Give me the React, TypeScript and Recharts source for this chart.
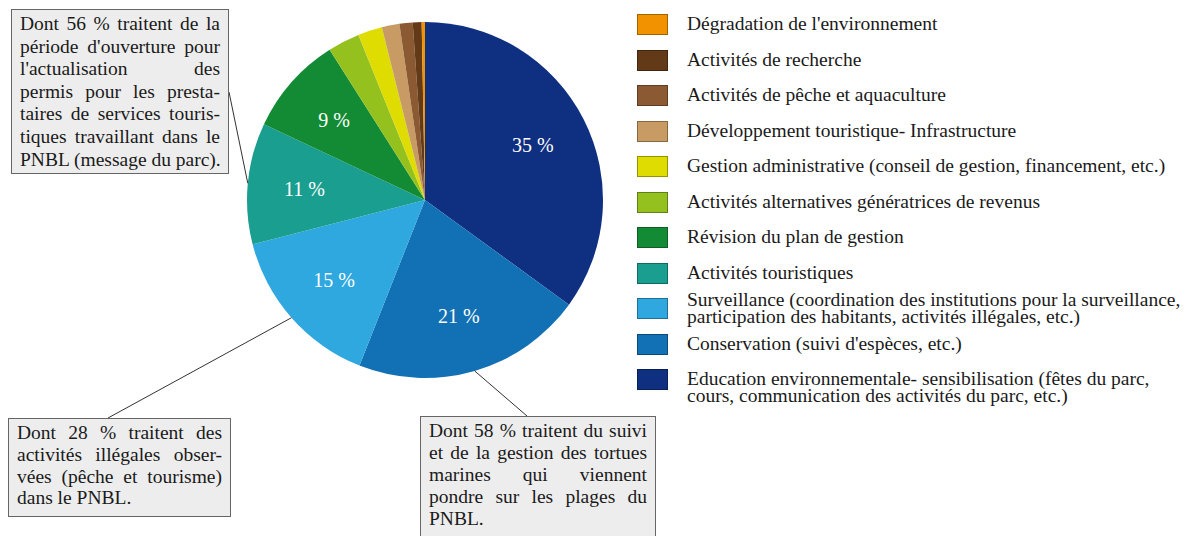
import React from "react";
import { PieChart, Pie, Cell, Legend } from "recharts";

// slices clockwise from 12 o'clock
const categories = [
  "Education environnementale- sensibilisation (fêtes du parc,\ncours, communication des activités du parc, etc.)",
  "Conservation (suivi d'espèces, etc.)",
  "Surveillance (coordination des institutions pour la surveillance,\nparticipation des habitants, activités illégales, etc.)",
  "Activités touristiques",
  "Révision du plan de gestion",
  "Activités alternatives génératrices de revenus",
  "Gestion administrative (conseil de gestion, financement, etc.)",
  "Développement touristique- Infrastructure",
  "Activités de pêche et aquaculture",
  "Activités de recherche",
  "Dégradation de l'environnement",
];

const shares = [35, 21, 15, 11, 9, 2.9, 2.2, 1.6, 1.2, 0.8, 0.3];

const colors = [
  "#0f2f80",
  "#1270b5",
  "#2ea8df",
  "#1a9e8f",
  "#138b35",
  "#95c11f",
  "#dedc00",
  "#c89b64",
  "#8b5a33",
  "#633a18",
  "#f39200",
];

const swatchBorders = [
  "#0a1f55",
  "#0c4b79",
  "#1f7095",
  "#116a60",
  "#0d5d24",
  "#647f15",
  "#959300",
  "#866843",
  "#5d3c22",
  "#422710",
  "#a26200",
];

const noteTexts = [
  [
    "Dont 56 % traitent de la",
    "période d'ouverture pour",
    "l'actualisation des",
    "permis pour les presta-",
    "taires de services touris-",
    "tiques travaillant dans le",
    "PNBL (message du parc).",
  ],
  [
    "Dont 28 % traitent des",
    "activités illégales obser-",
    "vées (pêche et tourisme)",
    "dans le PNBL.",
  ],
  [
    "Dont 58 % traitent du suivi",
    "et de la gestion des tortues",
    "marines qui viennent",
    "pondre sur les plages du",
    "PNBL.",
  ],
];
// which slice each note points at
const noteSlices = [3, 2, 1];

const data = categories.map((name, i) => ({ name, value: shares[i] }));

// layout
const CX = 425;
const CY = 200;
const R = 178;
const FONT = "'Liberation Serif', serif";
const noteBoxes = [
  { left: 11, top: 9, width: 218, height: 165, lh: 22.6, ax: 229, ay: 92 },
  { left: 8, top: 418, width: 223, height: 99, lh: 21.8, ax: 108, ay: 418 },
  { left: 420, top: 416, width: 236, height: 140, lh: 22, ax: 527, ay: 416 },
];

const RAD = Math.PI / 180;

function renderLabel(props: any) {
  const { cx, cy, midAngle, outerRadius, index, value } = props;
  const cos = Math.cos(-midAngle * RAD);
  const sin = Math.sin(-midAngle * RAD);
  const noteIdx = noteSlices.indexOf(index);
  return (
    <g>
      {value >= 5 && (
        <text
          x={cx + outerRadius * 0.68 * cos}
          y={cy + outerRadius * 0.68 * sin}
          fill="#fff"
          fontSize={20}
          fontFamily={FONT}
          textAnchor="middle"
          dominantBaseline="central"
        >
          {Math.round(value)} %
        </text>
      )}
      {noteIdx >= 0 && (
        <line
          x1={cx + outerRadius * cos}
          y1={cy + outerRadius * sin}
          x2={noteBoxes[noteIdx].ax}
          y2={noteBoxes[noteIdx].ay}
          stroke="#333"
          strokeWidth={1}
        />
      )}
    </g>
  );
}

function LegendBox() {
  const order = data.map((d, i) => i).reverse();
  return (
    <div style={{ position: "relative", width: 560, height: 420, fontFamily: FONT, fontSize: 19.5, color: "#1a1a1a" }}>
      {order.map((idx, row) => {
        const top = row * 35.5;
        const lines = data[idx].name.split("\n");
        const centered = lines.length > 1 && row < order.length - 1;
        return (
          <div key={idx} style={{ position: "absolute", top, left: 0 }}>
            <div
              style={{
                position: "absolute",
                left: 0,
                top: 0,
                width: 29,
                height: 19,
                background: colors[idx],
                border: `1px solid ${swatchBorders[idx]}`,
              }}
            />
            <div
              style={{
                position: "absolute",
                left: 50,
                top: centered ? -7 : 1,
                lineHeight: "17px",
                whiteSpace: "pre",
              }}
            >
              {data[idx].name}
            </div>
          </div>
        );
      })}
    </div>
  );
}

export default function App() {
  return (
    <div style={{ position: "absolute", left: 0, top: 0, width: 1200, height: 536, background: "#fff", overflow: "hidden" }}>
      <PieChart width={1200} height={536} margin={{ top: 0, right: 0, bottom: 0, left: 0 }}>
        <Pie
          data={data}
          dataKey="value"
          nameKey="name"
          cx={CX}
          cy={CY}
          outerRadius={R}
          startAngle={90}
          endAngle={-270}
          stroke="none"
          label={renderLabel}
          labelLine={false}
          isAnimationActive={false}
        >
          {data.map((entry, index) => (
            <Cell key={`cell-${index}`} fill={colors[index]} />
          ))}
        </Pie>
        <Legend
          content={() => <LegendBox />}
          wrapperStyle={{ position: "absolute", left: 637, top: 14, width: 560 }}
        />
      </PieChart>
      {noteTexts.map((lines, n) => {
        const b = noteBoxes[n];
        return (
          <div
            key={n}
            style={{
              position: "absolute",
              left: b.left,
              top: b.top,
              width: b.width,
              height: b.height,
              boxSizing: "border-box",
              background: "#ededed",
              border: "1.5px solid #666",
              padding: "3px 8px",
              fontFamily: FONT,
              fontSize: 19.5,
              lineHeight: `${b.lh}px`,
              color: "#1a1a1a",
            }}
          >
            {lines.map((t, i) => (
              <div key={i} style={{ textAlign: "justify", textAlignLast: i < lines.length - 1 ? "justify" : "left", whiteSpace: "nowrap" }}>
                {t}
              </div>
            ))}
          </div>
        );
      })}
    </div>
  );
}
